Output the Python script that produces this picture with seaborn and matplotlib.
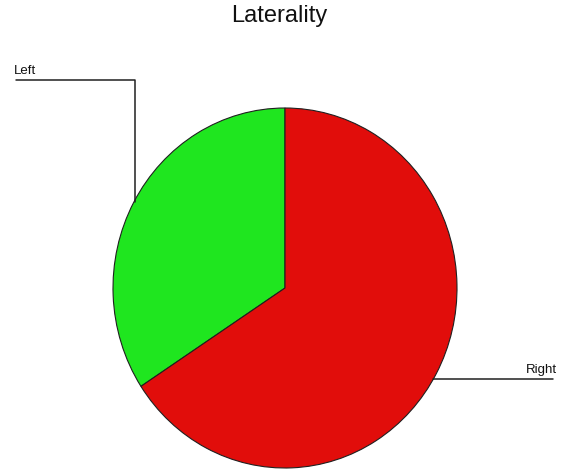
import matplotlib
matplotlib.use("Agg")
import matplotlib.pyplot as plt
import seaborn as sns

categories = ["Left", "Right"]
values = [34.2, 65.8]
colors = ["#1fe61f", "#e10d0b"]

sns.set_theme(style="white")
plt.rcParams['font.family'] = ['Liberation Sans', 'DejaVu Sans']

W, H = 566, 472
S = 180 / 172  # vertical stretch of the pie in the reference


def py(p):
    """pixel row (from top) -> data y"""
    return (H - p) / S


fig = plt.figure(figsize=(W / 100, H / 100), dpi=100)
ax = fig.add_axes([0, 0, 1, 1])

cx, cy, r = 285, py(288), 172
ax.pie(values, colors=colors, startangle=90, counterclock=True,
       center=(cx, cy), radius=r, frame=False,
       wedgeprops=dict(edgecolor="#202020", linewidth=0.8))
ax.set_xlim(0, W)
ax.set_ylim(0, H / S)
ax.set_aspect("auto")
ax.axis("off")

# leader lines and labels
ax.plot([16, 135, 135], [py(80), py(80), py(202)], color="#202020", lw=1.1)
ax.text(14, py(77), categories[0], fontsize=9.5, ha="left", va="bottom", color="#111111")
ax.plot([433, 553], [py(379), py(379)], color="#202020", lw=1.1)
ax.text(557, py(376), categories[1], fontsize=9.5, ha="right", va="bottom", color="#111111")

fig.text(279 / W, 1 - 16 / H, "Laterality", fontsize=17, ha="center", va="center", color="#111111")

fig.savefig("out.png", dpi=100, facecolor="white")
